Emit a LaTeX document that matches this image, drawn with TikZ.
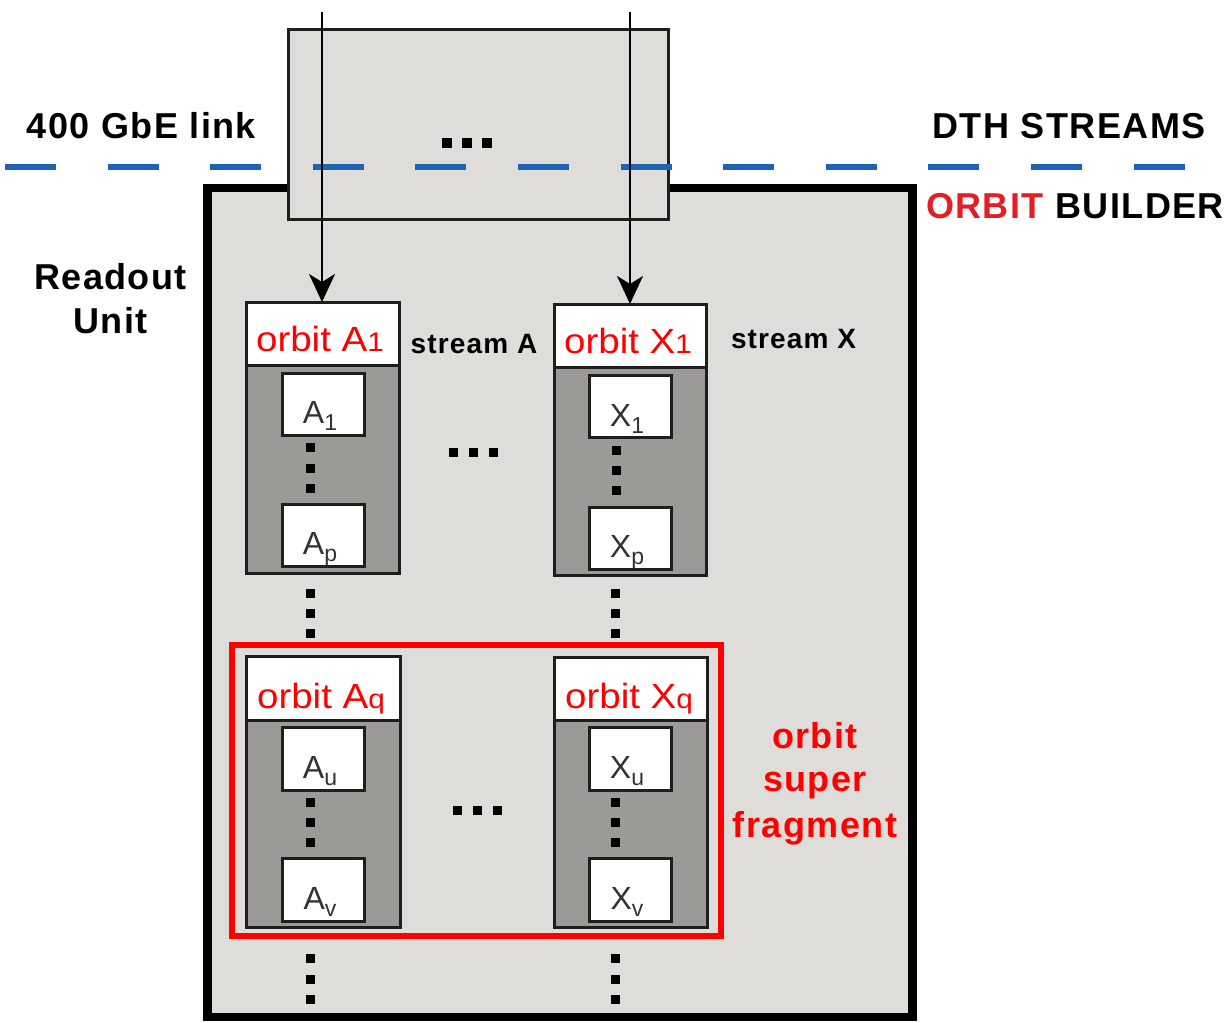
\documentclass[tikz,border=0pt]{standalone}
\usepackage{fontspec}
\setmainfont{Liberation Sans}
\newfontfamily\tagfont[LetterSpace=4]{Liberation Sans}
\newfontfamily\wideface[FakeStretch=1.1]{Liberation Sans}
\usetikzlibrary{arrows.meta}

\definecolor{panel}{HTML}{DEDDD9}
\definecolor{slotgray}{HTML}{9C9A96}
\definecolor{dthblue}{HTML}{1F63B5}
\definecolor{obred}{HTML}{E31E25}
\definecolor{edge}{HTML}{1E1E1E}
\definecolor{ink}{HTML}{333333}

% rectangle node given by its corners (pixel grid, y downwards)
\newcommand\pxbox[6]{\node[#2, anchor=north west, inner sep=0pt, outer sep=0pt,
  minimum width={(#5-#3)*0.5pt}, minimum height={(#6-#4)*0.5pt}] (#1) at (#3,#4) {};}
% small square dots
\newcommand\dotsq[2]{\fill (#1,#2) ++(-4.5,-4.5) rectangle ++(9,9);}
\newcommand\dotsqbig[2]{\fill (#1,#2) ++(-5,-5) rectangle ++(10,10);}
% suffixes
\newcommand\hsuf[1]{{\fontsize{13.5}{13.5}\selectfont #1}}
\newcommand\isub[1]{\raisebox{-3.5pt}{\fontsize{11.5}{11.5}\selectfont #1}}

\tikzset{
  builder/.style={draw=black, line width=4.25pt, fill=panel},
  linkbox/.style={draw=edge, line width=1.5pt, fill=panel},
  headbox/.style={draw=edge, line width=1.5pt, fill=white},
  slotbox/.style={draw=edge, line width=1.5pt, fill=slotgray},
  fragbox/.style={draw=edge, line width=1.5pt, fill=white},
  superfrag/.style={draw=red, line width=3pt},
  dth/.style={draw=dthblue, line width=3pt, dash pattern=on 25.5pt off 25.8pt},
  feed/.style={draw=black, line width=1.3pt, -{Stealth[length=14pt,width=13pt,inset=4pt]}},
  boldlabel/.style={font=\tagfont\bfseries\fontsize{18}{18}\selectfont, inner sep=0pt, anchor=base},
  streamlabel/.style={font=\tagfont\bfseries\fontsize{14}{14}\selectfont, inner sep=0pt, anchor=base},
  headtext/.style={font=\wideface\fontsize{17.5}{17.5}\selectfont, text=red, inner sep=0pt, anchor=base},
  fragtext/.style={font=\fontsize{16}{16}\selectfont, text=ink, inner sep=0pt, anchor=base},
  fraglabel/.style={boldlabel, text=red},
}

\begin{document}
\begin{tikzpicture}[x=0.5pt, y=-0.5pt]
\useasboundingbox (0,0) rectangle (1229,1022);
\fill[white] (0,0) rectangle (1229,1022);

% orbit builder (readout unit)
\pxbox{ru}{builder}{207.5}{188}{912.5}{1017}
% incoming DTH link box
\pxbox{link}{linkbox}{288.5}{29.5}{668}{219.5}
\dotsqbig{447}{143}\dotsqbig{467}{143}\dotsqbig{487}{143}

% boundary between DTH streams and orbit builder
\coordinate (dl) at (5,167);
\coordinate (dr) at (1185,167);
\draw[dth] (dl) -- (dr);

% stream A, first orbit
\pxbox{hA1}{headbox}{246.5}{302}{399.5}{365}
\pxbox{bA1}{slotbox}{246.5}{365}{399.5}{573}
\pxbox{fA1}{fragbox}{282}{373}{364}{435}
\pxbox{fAp}{fragbox}{282}{504}{364}{566}
% stream X, first orbit
\pxbox{hX1}{headbox}{554.5}{304}{706.5}{367}
\pxbox{bX1}{slotbox}{554.5}{367}{706.5}{575}
\pxbox{fX1}{fragbox}{589}{375}{671.5}{437}
\pxbox{fXp}{fragbox}{589}{507}{671.5}{569}
% stream A, orbit q
\pxbox{hAq}{headbox}{246.5}{656}{400}{720}
\pxbox{bAq}{slotbox}{246.5}{720}{400}{927}
\pxbox{fAu}{fragbox}{282}{727}{364}{790}
\pxbox{fAv}{fragbox}{282}{858}{364}{921}
% stream X, orbit q
\pxbox{hXq}{headbox}{554}{657}{707}{720}
\pxbox{bXq}{slotbox}{554}{720}{707}{927}
\pxbox{fXu}{fragbox}{589}{727}{671}{790}
\pxbox{fXv}{fragbox}{589}{858}{671}{921}

% orbit super fragment
\pxbox{osf}{superfrag}{232}{645}{721}{936}

% ellipsis dots
\dotsq{310}{447}\dotsq{310}{468}\dotsq{310}{488}
\dotsq{616}{450}\dotsq{616}{470}\dotsq{616}{490}
\dotsq{453}{452}\dotsq{473}{452}\dotsq{493}{452}
\dotsq{310}{593}\dotsq{310}{613}\dotsq{310}{633}
\dotsq{615}{593}\dotsq{615}{613}\dotsq{615}{633}
\dotsq{310}{802}\dotsq{310}{822}\dotsq{310}{842}
\dotsq{615}{802}\dotsq{615}{822}\dotsq{615}{842}
\dotsq{457}{810}\dotsq{477}{810}\dotsq{497}{810}
\dotsq{310}{958}\dotsq{310}{979}\dotsq{310}{999}
\dotsq{615}{958}\dotsq{615}{979}\dotsq{615}{999}

% streams entering the builder
\coordinate (inA) at (322,12);
\coordinate (inX) at (630,12);
\draw[feed] (inA) -- (inA |- hA1.north);
\draw[feed] (inX) -- (inX |- hX1.north);

% headers
\node[headtext] (tA1) at (320,351) {orbit A\hsuf{1}};
\node[headtext] (tX1) at (628,353) {orbit X\hsuf{1}};
\node[headtext] (tAq) at (321,708) {orbit A\hsuf{q}};
\node[headtext] (tXq) at (629,708) {orbit X\hsuf{q}};

% fragments
\node[fragtext] (lA1) at (320,423) {A\isub{1}};
\node[fragtext] (lAp) at (320,554) {A\isub{p}};
\node[fragtext] (lX1) at (627,426) {X\isub{1}};
\node[fragtext] (lXp) at (627,557) {X\isub{p}};
\node[fragtext] (lAu) at (320,778) {A\isub{u}};
\node[fragtext] (lAv) at (320,909) {A\isub{v}};
\node[fragtext] (lXu) at (627,778) {X\isub{u}};
\node[fragtext] (lXv) at (627,909) {X\isub{v}};

% labels
\node[boldlabel] (gbe) at (141.5,138) {400 GbE link};
\node[boldlabel] (dths) at (1069,138) {DTH STREAMS};
\node[boldlabel] (obl) at (1075,218) {\textcolor{obred}{ORBIT} BUILDER};
\node[boldlabel] (ru1) at (110.5,289) {Readout};
\node[boldlabel] (ru2) at (110.5,333) {Unit};
\node[streamlabel] (sA) at (474,353) {stream A};
\node[streamlabel] (sX) at (793.5,348) {stream X};
\node[fraglabel] (sf1) at (815,748) {orbit};
\node[fraglabel] (sf2) at (815,791) {super};
\node[fraglabel] (sf3) at (815,837) {fragment};
\end{tikzpicture}
\end{document}
